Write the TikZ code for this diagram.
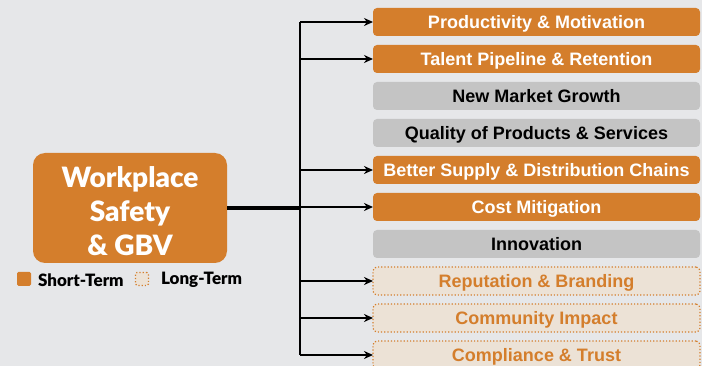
\documentclass[tikz,border=0pt]{standalone}
\usepackage{fontspec}
\setmainfont{Liberation Sans}
\newfontfamily\gillfont{Lato}[BoldFont = {Lato Black}]
\usepackage{tikz}
\usetikzlibrary{arrows.meta, positioning}

\definecolor{rust}{RGB}{212,126,44}
\definecolor{paper}{RGB}{230,231,233}
\definecolor{stone}{RGB}{196,196,196}
\definecolor{sand}{RGB}{236,226,214}

\begin{document}
\begin{tikzpicture}[
        x = 1pt, y = -1pt, % pixel units, y runs down
        > = {Stealth[length=9pt, width=8pt]}, % arrow head style
        node distance = 9pt, % gap between the boxes
        line width = 2pt
    ]

    \tikzstyle{every box}=[
        rounded corners = 4pt,
        minimum width = 327pt,
        minimum height = 28pt,
        inner sep = 0pt, outer sep = 0pt,
        text height = 12.9pt, text depth = 0pt,
        font = \bfseries\fontsize{18}{20}\selectfont
    ]
    \tikzstyle{short}=[every box, fill = rust, text = white]
    \tikzstyle{other}=[every box, fill = stone, text = black]
    \tikzstyle{long}=[every box, fill = sand, text = rust, draw = rust,
        line width = 1.2pt, dotted]
    \tikzstyle{link}=[->, line width = 2.2pt]

    \fill[paper] (0,0) rectangle (702,366);
    \clip (0,0) rectangle (702,366);

    \node[rounded corners = 12pt, fill = rust, text = white,
        minimum width = 194pt, minimum height = 110pt, align = center,
        outer sep = 0pt,
        font = \gillfont\bfseries\fontsize{28}{34}\selectfont] (hub) at (130,208)
        {\rule{0pt}{27pt}Workplace\\Safety\\\& GBV};

    \node[short] (prod) at (536.5,22) {Productivity \& Motivation};
    \node[short] (talent) [below=of prod] {Talent Pipeline \& Retention};
    \node[other] (market) [below=of talent] {New Market Growth};
    \node[other] (quality) [below=of market] {Quality of Products \& Services};
    \node[short] (supply) [below=of quality] {Better Supply \& Distribution Chains};
    \node[short] (cost) [below=of supply] {Cost Mitigation};
    \node[other] (innov) [below=of cost] {Innovation};
    \node[long] (brand) [below=of innov] {Reputation \& Branding};
    \node[long] (commun) [below=of brand] {Community Impact};
    \node[long] (comply) [below=of commun] {Compliance \& Trust};

    % legend
    \node[fill = rust, rounded corners = 1.5pt, minimum size = 14pt,
        inner sep = 0pt] (keyshort) at (24,279) {};
    \node[font = \gillfont\bfseries\fontsize{17}{18}\selectfont,
        anchor = west, inner sep = 0pt] (txtshort) at (37,280) {Short-Term};
    \node[fill = sand, draw = rust, dotted, line width = 1.2pt,
        rounded corners = 1.5pt, minimum size = 13pt, inner sep = 0pt]
        (keylong) at (142,279) {};
    \node[font = \gillfont\bfseries\fontsize{17}{18}\selectfont,
        anchor = west, inner sep = 0pt] (txtlong) at (160,280) {Long-Term};

    % connectors
    \coordinate (split) at (300,208);
    \draw[line width = 3.5pt] (hub.east) -- (split);
    \draw[line width = 2.5pt] (split |- prod.west) -- (split |- comply.west);
    \foreach \b in {prod, talent, supply, cost, brand, commun, comply}
        \draw[link] (split |- \b.west) -- (\b.west);

\end{tikzpicture}
\end{document}
